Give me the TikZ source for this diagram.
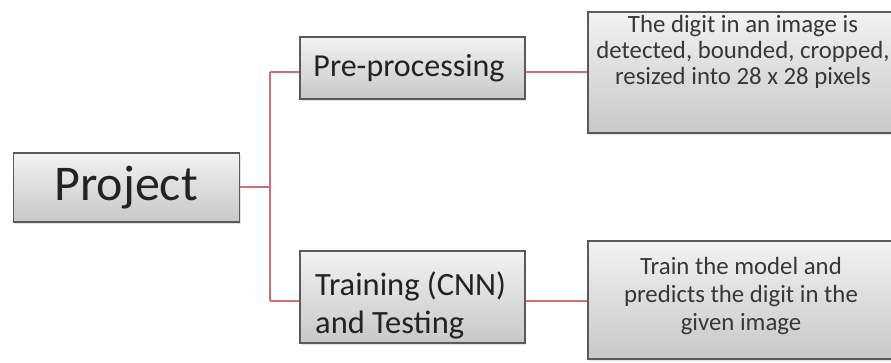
\documentclass[tikz,border=0pt]{standalone}
\usepackage{fontspec}
\setmainfont{Carlito}
\usetikzlibrary{shadows}

\definecolor{linkred}{RGB}{200,112,122}
\definecolor{boxedge}{RGB}{90,90,90}
\definecolor{boxtop}{RGB}{242,242,242}
\definecolor{boxbot}{RGB}{200,200,200}
\definecolor{labeltext}{RGB}{35,35,35}
\definecolor{desctext}{RGB}{55,55,55}

\tikzset{
  boxnode/.style={draw=boxedge, line width=1.4pt, rectangle,
    top color=boxtop, bottom color=boxbot, inner sep=0pt,
    drop shadow={opacity=0.22, shadow xshift=1pt, shadow yshift=-2pt}},
  link/.style={draw=linkred, line width=2pt},
  desclabel/.style={align=center, text=desctext, inner sep=0pt, anchor=base}
}

\begin{document}
\begin{tikzpicture}[x=1pt, y=-1pt]
  \clip (0,0) rectangle (891,363);
  \fill[white] (0,0) rectangle (891,363);

  % boxes
  \node[boxnode, minimum width=226pt, minimum height=69pt] (proj) at (126.5,187.5) {};
  \node[boxnode, minimum width=225pt, minimum height=62pt] (pre) at (412.5,68) {};
  \node[boxnode, minimum width=225pt, minimum height=92pt] (train) at (412.5,297) {};
  \node[boxnode, minimum width=310pt, minimum height=121pt] (d1) at (743,72.5) {};
  \node[boxnode, minimum width=310pt, minimum height=118pt] (d2) at (743,300) {};

  % box labels (multi-line labels are anchored at their last baseline)
  \node[text=labeltext, inner sep=0pt, anchor=base, font=\fontsize{50}{60}\selectfont]
    (projtxt) at (126,201) {Project};
  \node[text=labeltext, inner sep=0pt, anchor=base, font=\fontsize{32}{38}\selectfont]
    (pretxt) at (409,77) {Pre-processing};
  \node[text=labeltext, inner sep=0pt, anchor=base west, align=left,
    font=\fontsize{32.5}{38}\selectfont]
    (traintxt) at (315,333) {Training (CNN)\\and Testing};
  \node[desclabel, font=\fontsize{24.8}{26}\selectfont] (d1txt) at (743,85)
    {The digit in an image is\\detected, bounded, cropped,\\resized into 28 x 28 pixels};
  \node[desclabel, font=\fontsize{24.8}{27.5}\selectfont] (d2txt) at (741,330)
    {Train the model and\\predicts the digit in the\\given image};

  % connector junctions
  \coordinate (jm) at (270,187.5);
  \coordinate (jt) at (270,72);
  \coordinate (jb) at (270,301);

  % connectors
  \draw[link] (proj.east) -- (jm);
  \draw[link] (jt) -- (jb);
  \draw[link] (jt) -- (jt -| pre.west);
  \draw[link] (jb) -- (jb -| train.west);
  \draw[link] (jt -| pre.east) -- (jt -| d1.west);
  \draw[link] (jb -| train.east) -- (jb -| d2.west);
\end{tikzpicture}
\end{document}
